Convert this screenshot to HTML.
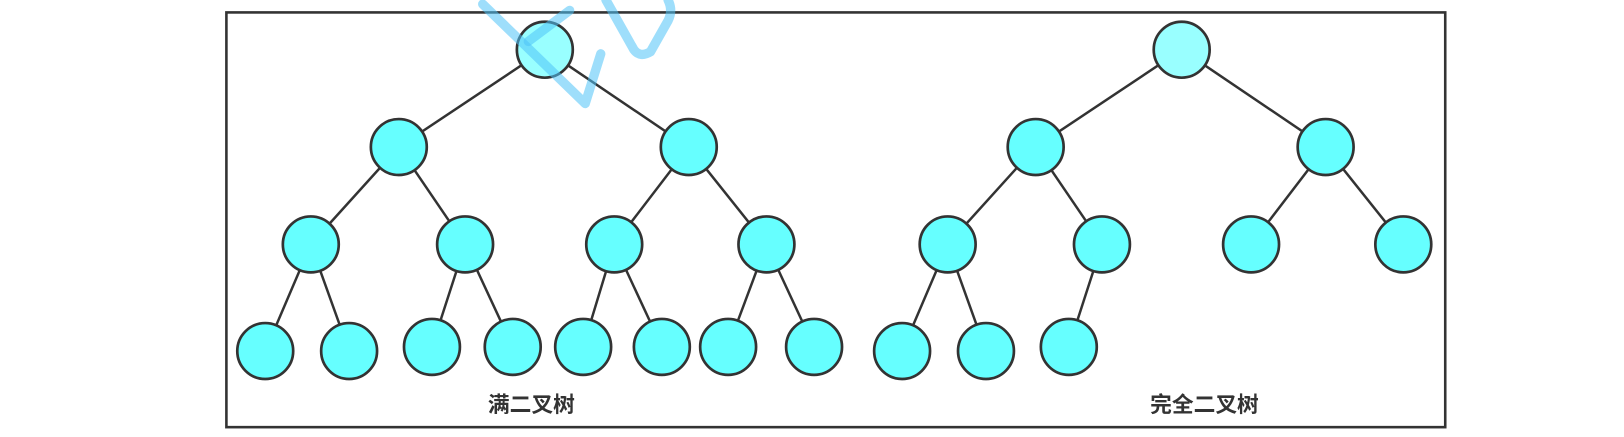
<!DOCTYPE html>
<html><head><meta charset="utf-8"><style>
html,body{margin:0;padding:0;background:#fff;}
svg{display:block;}
</style></head><body>
<svg width="1624" height="437" viewBox="0 0 1568 422" xmlns="http://www.w3.org/2000/svg">
<rect x="0" y="0" width="1568" height="422" fill="#fff"/>
<rect x="218.5" y="12" width="1177" height="400.5" fill="#fff" stroke="#333" stroke-width="2.5"/>
<g stroke="#333" stroke-width="2.4" fill="none">
<line x1="526" y1="48" x2="385" y2="142"/><line x1="526" y1="48" x2="665" y2="142"/>
<line x1="385" y1="142" x2="300" y2="236"/><line x1="385" y1="142" x2="449" y2="236"/>
<line x1="665" y1="142" x2="593" y2="236"/><line x1="665" y1="142" x2="740" y2="236"/>
<line x1="300" y1="236" x2="256" y2="339"/><line x1="300" y1="236" x2="337" y2="339"/>
<line x1="449" y1="236" x2="417" y2="335"/><line x1="449" y1="236" x2="495" y2="335"/>
<line x1="593" y1="236" x2="563" y2="335"/><line x1="593" y1="236" x2="639" y2="335"/>
<line x1="740" y1="236" x2="703" y2="335"/><line x1="740" y1="236" x2="786" y2="335"/>
<line x1="1141" y1="48" x2="1000" y2="142"/><line x1="1141" y1="48" x2="1280" y2="142"/>
<line x1="1000" y1="142" x2="915" y2="236"/><line x1="1000" y1="142" x2="1064" y2="236"/>
<line x1="1280" y1="142" x2="1208" y2="236"/><line x1="1280" y1="142" x2="1355" y2="236"/>
<line x1="915" y1="236" x2="871" y2="339"/><line x1="915" y1="236" x2="952" y2="339"/>
<line x1="1064" y1="236" x2="1032" y2="335"/>
</g>
<g stroke="#333" stroke-width="2.6" fill="#66ffff">
<circle cx="526" cy="48" r="27" fill="#99ffff"/>
<circle cx="385" cy="142" r="27"/><circle cx="665" cy="142" r="27"/>
<circle cx="300" cy="236" r="27"/><circle cx="449" cy="236" r="27"/>
<circle cx="593" cy="236" r="27"/><circle cx="740" cy="236" r="27"/>
<circle cx="256" cy="339" r="27"/><circle cx="337" cy="339" r="27"/>
<circle cx="417" cy="335" r="27"/><circle cx="495" cy="335" r="27"/>
<circle cx="563" cy="335" r="27"/><circle cx="639" cy="335" r="27"/>
<circle cx="703" cy="335" r="27"/><circle cx="786" cy="335" r="27"/>
<circle cx="1141" cy="48" r="27" fill="#99ffff"/>
<circle cx="1000" cy="142" r="27"/><circle cx="1280" cy="142" r="27"/>
<circle cx="915" cy="236" r="27"/><circle cx="1064" cy="236" r="27"/>
<circle cx="1208" cy="236" r="27"/><circle cx="1355" cy="236" r="27"/>
<circle cx="871" cy="339" r="27"/><circle cx="952" cy="339" r="27"/>
<circle cx="1032" cy="335" r="27"/>
</g>
<g stroke="#4fc3f7" stroke-opacity="0.55" stroke-width="9" fill="none" stroke-linecap="round" stroke-linejoin="round">
<path d="M466 4 L565 100 L580 52"/>
<path d="M510 40 L550 10"/>
<path d="M585 0 L612 48 Q618 56 628 50 L645 20 Q650 10 645 0"/>
</g>
<g font-family="'Liberation Sans','Noto Sans CJK SC',sans-serif" font-weight="bold" font-size="21" fill="#333" text-anchor="middle">
<text x="513" y="398">满二叉树</text>
<text x="1163" y="398">完全二叉树</text>
</g>
</svg>
</body></html>
